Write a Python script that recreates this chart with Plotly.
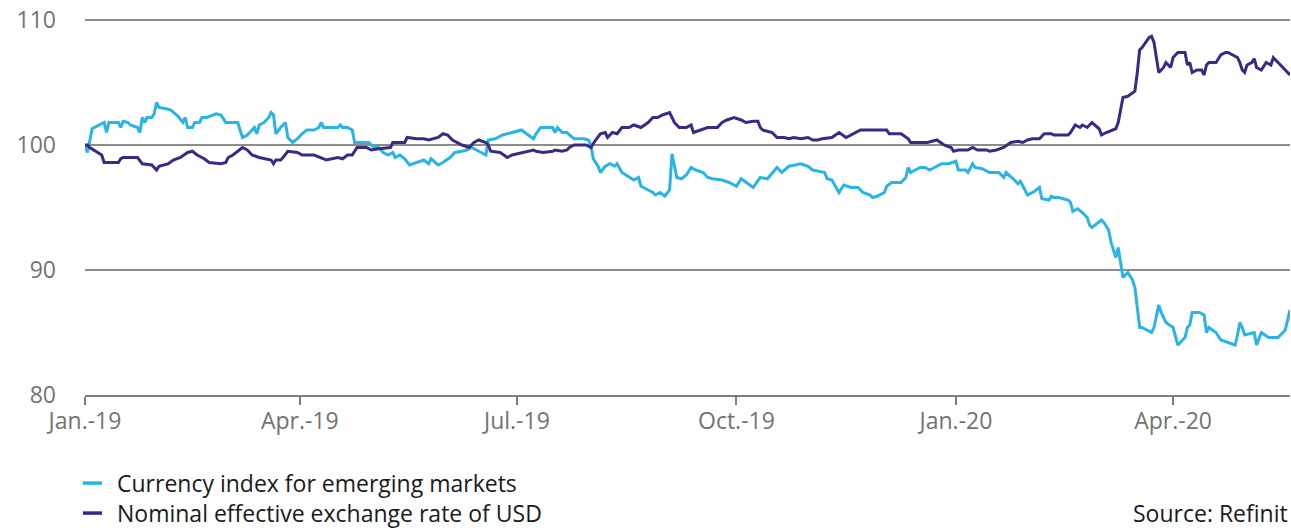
import pandas as pd
import plotly.graph_objects as go

# days since 2019-01-01, index values
em_days = [0, 1, 3, 8, 9, 10, 14, 15, 16, 18, 19, 22, 23, 24, 25, 26, 28, 29, 30, 31,
           34, 36, 39, 41, 42, 43, 45, 46, 48, 49, 51, 54, 55, 57, 59, 64, 66, 68, 70, 71,
           72, 73, 75, 77, 78, 79, 80, 82, 84, 85, 87, 89, 91, 93, 96, 98, 99, 100, 106, 107,
           108, 110, 112, 113, 117, 119, 121, 123, 125, 127, 129, 130, 132, 134, 136, 139, 142, 144, 145, 148,
           150, 153, 155, 158, 160, 162, 164, 166, 168, 169, 172, 175, 177, 180, 183, 185, 188, 189, 191, 193,
           196, 197, 198, 200, 202, 203, 205, 209, 211, 212, 213, 215, 216, 218, 220, 222, 223, 225, 228, 230,
           232, 233, 236, 238, 239, 241, 243, 245, 246, 247, 248, 250, 252, 254, 256, 259, 261, 263, 267, 270,
           273, 275, 277, 280, 283, 286, 290, 292, 295, 297, 300, 303, 305, 310, 311, 313, 316, 318, 321, 324,
           326, 329, 330, 332, 335, 336, 338, 342, 344, 345, 346, 348, 350, 352, 354, 356, 359, 362, 365, 366,
           369, 370, 372, 373, 376, 379, 383, 385, 386, 389, 391, 392, 393, 395, 398, 400, 401, 404, 405, 406,
           408, 412, 413, 414, 416, 418, 420, 421, 422, 426, 427, 429, 430, 432, 433, 434, 435, 437, 439, 440,
           442, 443, 447, 448, 450, 451, 453, 456, 458, 460, 461, 462, 463, 464, 467, 469, 470, 471, 474, 476,
           479, 482, 483, 484, 485, 486, 490, 491, 493, 496, 498, 500, 503, 505]
em_index = [100.0, 99.4, 101.3, 101.8, 101.0, 101.8, 101.8, 101.4, 101.9, 101.8, 101.6, 101.4, 101.0, 102.2, 101.8, 102.2, 102.2, 102.5, 103.4, 103.0,
            102.9, 102.8, 102.3, 101.8, 102.2, 101.4, 101.4, 101.8, 101.8, 102.2, 102.2, 102.4, 102.5, 102.4, 101.8, 101.8, 100.6, 100.8, 101.2, 101.4,
            100.9, 101.6, 101.8, 102.2, 102.6, 102.4, 100.9, 101.4, 101.8, 100.6, 100.2, 100.5, 100.9, 101.2, 101.2, 101.4, 101.8, 101.4, 101.4, 101.6,
            101.4, 101.4, 101.2, 100.2, 100.2, 100.2, 99.8, 99.8, 99.4, 99.2, 99.4, 99.0, 99.2, 98.9, 98.4, 98.6, 98.8, 98.5, 98.9, 98.4,
            98.6, 99.0, 99.4, 99.5, 99.6, 99.8, 99.6, 99.4, 99.2, 100.4, 100.5, 100.8, 100.9, 101.0, 101.2, 100.9, 100.5, 100.9, 101.4, 101.4,
            101.4, 101.0, 101.4, 101.0, 101.0, 100.8, 100.5, 100.5, 100.4, 100.0, 98.9, 98.3, 97.8, 98.3, 98.5, 98.3, 98.5, 97.8, 97.4, 97.2,
            97.4, 96.7, 96.4, 96.2, 96.0, 96.2, 95.9, 96.4, 99.3, 98.3, 97.4, 97.3, 97.6, 98.2, 98.0, 97.8, 97.4, 97.3, 97.2, 97.0,
            96.7, 97.3, 97.0, 96.6, 97.4, 97.3, 98.2, 97.8, 98.3, 98.4, 98.5, 98.3, 98.0, 97.8, 97.3, 97.2, 96.2, 96.8, 96.6, 96.6,
            96.2, 96.0, 95.8, 95.9, 96.2, 96.7, 97.0, 97.0, 97.4, 98.2, 97.8, 98.0, 98.2, 98.2, 98.0, 98.2, 98.5, 98.5, 98.7, 98.0,
            98.0, 97.8, 98.5, 98.2, 98.1, 97.8, 97.8, 97.4, 97.8, 97.3, 96.9, 97.1, 96.7, 96.0, 96.3, 96.6, 95.7, 95.6, 95.9, 95.8,
            95.8, 95.6, 95.4, 94.7, 94.9, 94.6, 94.2, 93.6, 93.4, 94.0, 93.8, 93.2, 92.2, 91.0, 91.8, 90.6, 89.4, 89.8, 89.2, 88.6,
            85.4, 85.4, 85.0, 85.4, 87.2, 86.6, 85.8, 85.4, 84.0, 84.4, 84.6, 85.4, 85.6, 86.6, 86.6, 86.4, 85.0, 85.4, 85.0, 84.4,
            84.2, 84.0, 84.8, 85.8, 85.4, 84.8, 85.0, 84.0, 85.0, 84.6, 84.6, 84.6, 85.2, 86.8]

usd_days = [0, 1, 2, 5, 7, 8, 14, 15, 16, 22, 24, 28, 30, 31, 35, 37, 40, 43, 45, 47,
            50, 52, 57, 59, 60, 62, 66, 68, 70, 73, 78, 79, 80, 82, 83, 85, 89, 91, 96, 100,
            101, 106, 108, 110, 112, 114, 118, 120, 123, 128, 129, 134, 135, 139, 142, 144, 146, 148, 150, 152,
            154, 156, 158, 161, 163, 165, 168, 169, 170, 174, 177, 179, 185, 188, 189, 192, 196, 197, 200, 202,
            203, 205, 210, 212, 214, 216, 218, 219, 221, 223, 225, 228, 230, 233, 236, 238, 240, 242, 245, 247,
            249, 252, 254, 255, 258, 261, 265, 267, 269, 272, 275, 277, 280, 282, 283, 284, 288, 290, 293, 295,
            297, 300, 303, 305, 307, 309, 313, 315, 316, 319, 322, 325, 336, 337, 342, 345, 346, 350, 353, 357,
            360, 363, 364, 366, 370, 372, 374, 378, 379, 382, 385, 388, 391, 393, 395, 397, 400, 402, 405, 406,
            412, 413, 415, 417, 418, 420, 422, 425, 426, 428, 432, 433, 435, 437, 440, 441, 442, 443, 446, 447,
            448, 450, 452, 453, 455, 456, 458, 461, 462, 463, 464, 466, 468, 469, 470, 471, 474, 476, 478, 479,
            481, 483, 484, 485, 486, 487, 489, 490, 491, 493, 495, 497, 498, 500, 502, 504, 505]
usd_neer = [100.0, 100.0, 99.8, 99.4, 99.2, 98.6, 98.6, 98.9, 99.0, 99.0, 98.5, 98.4, 98.0, 98.3, 98.5, 98.8, 99.0, 99.4, 99.5, 99.2,
            98.9, 98.6, 98.5, 98.6, 99.0, 99.2, 99.8, 99.6, 99.2, 99.0, 98.8, 98.5, 98.8, 98.8, 99.0, 99.5, 99.4, 99.2, 99.2, 98.9,
            98.8, 99.0, 98.9, 99.2, 99.2, 99.8, 99.8, 99.6, 99.7, 99.8, 100.2, 100.2, 100.6, 100.5, 100.5, 100.4, 100.5, 100.6, 100.9, 100.8,
            100.4, 100.2, 100.0, 99.8, 100.2, 100.4, 100.2, 100.0, 99.5, 99.4, 99.0, 99.2, 99.5, 99.6, 99.5, 99.4, 99.5, 99.6, 99.5, 99.6,
            99.8, 100.0, 100.0, 99.8, 100.4, 100.9, 101.0, 100.6, 101.0, 100.9, 101.4, 101.4, 101.6, 101.4, 101.8, 102.2, 102.2, 102.4, 102.6, 101.8,
            101.4, 101.4, 101.6, 101.0, 101.2, 101.4, 101.4, 101.8, 102.0, 102.2, 102.0, 101.8, 101.9, 101.9, 101.4, 101.2, 101.0, 100.6, 100.6, 100.5,
            100.6, 100.5, 100.6, 100.4, 100.4, 100.5, 100.6, 100.9, 101.0, 100.6, 100.9, 101.2, 101.2, 100.9, 100.9, 100.5, 100.2, 100.2, 100.2, 100.4,
            100.0, 99.8, 99.5, 99.6, 99.6, 99.8, 99.6, 99.6, 99.5, 99.6, 99.8, 100.2, 100.3, 100.2, 100.4, 100.5, 100.5, 100.9, 100.9, 100.8,
            100.8, 101.0, 101.6, 101.4, 101.6, 101.4, 101.8, 101.3, 100.8, 101.0, 101.3, 101.8, 103.8, 103.9, 104.3, 105.8, 107.6, 107.8, 108.6, 108.7,
            108.2, 105.8, 106.2, 106.6, 106.2, 107.0, 107.4, 107.4, 106.4, 106.6, 105.8, 106.0, 106.0, 105.6, 106.4, 106.6, 106.6, 107.2, 107.4, 107.4,
            107.2, 107.0, 106.6, 106.0, 105.8, 106.4, 106.6, 106.9, 106.2, 106.0, 106.6, 106.4, 107.0, 106.6, 106.2, 105.8, 105.6]

tick_dates = ["2019-01-01", "2019-04-01", "2019-07-01", "2019-10-01", "2020-01-01", "2020-04-01"]
tick_labels = ["Jan.-19", "Apr.-19", "Jul.-19", "Oct.-19", "Jan.-20", "Apr.-20"]
y_ticks = [80, 90, 100, 110]

series_names = ["Currency index for emerging markets", "Nominal effective exchange rate of USD"]
colors = ["#29b4e2", "#3b2a82"]

base = pd.Timestamp("2019-01-01")
em_x = base + pd.to_timedelta(em_days, unit="D")
usd_x = base + pd.to_timedelta(usd_days, unit="D")

FONT = "Open Sans"

fig = go.Figure()
fig.add_scatter(x=em_x, y=em_index, mode="lines", name=series_names[0],
                line=dict(color=colors[0], width=3), showlegend=False)
fig.add_scatter(x=usd_x, y=usd_neer, mode="lines", name=series_names[1],
                line=dict(color=colors[1], width=3), showlegend=False)

# plot area height 378 px; 0.24 above 110 keeps its gridline clear of plotly's edge clipping
fig.update_layout(
    width=1291, height=530,
    margin=dict(l=85, r=1, t=17, b=135),
    paper_bgcolor="white", plot_bgcolor="white",
    font=dict(family=FONT, size=23, color="#737373"),
)
fig.update_xaxes(
    range=["2019-01-01", "2020-05-20"],
    tickmode="array", tickvals=tick_dates, ticktext=tick_labels,
    showgrid=False, showline=True, linecolor="#7f7f7f", linewidth=2,
    ticks="outside", ticklen=8, tickwidth=2, tickcolor="#7f7f7f",
    zeroline=False, ticklabelstandoff=-4,
)
fig.update_yaxes(
    range=[80, 110.24], tickvals=y_ticks,
    showgrid=True, gridcolor="#8c8c8c", gridwidth=1.5,
    showline=False, zeroline=False, ticks="", ticklabelstandoff=28,
    automargin=False,
)

# legend drawn by hand, short thick dash + label
for i, name in enumerate(series_names):
    ypos = -0.233 - i * 0.0794
    fig.add_shape(type="line", xref="paper", yref="paper",
                  x0=-0.0017, x1=0.0141, y0=ypos, y1=ypos,
                  line=dict(color=colors[i], width=3.5))
    fig.add_annotation(xref="paper", yref="paper", x=0.0249, y=ypos,
                       text=name, showarrow=False, xanchor="left", yanchor="middle",
                       font=dict(family=FONT, size=23, color="#1a1a1a"))

fig.add_annotation(xref="paper", yref="paper", x=1.0, y=-0.312,
                   text="Source: Refinit", showarrow=False, xanchor="right", yanchor="middle",
                   font=dict(family=FONT, size=23, color="#1a1a1a"))

# drop the default 8px body margin so the figure fills the window
fig.write_html("out.html", config={"displayModeBar": False},
               post_script="document.body.style.margin='0';")
